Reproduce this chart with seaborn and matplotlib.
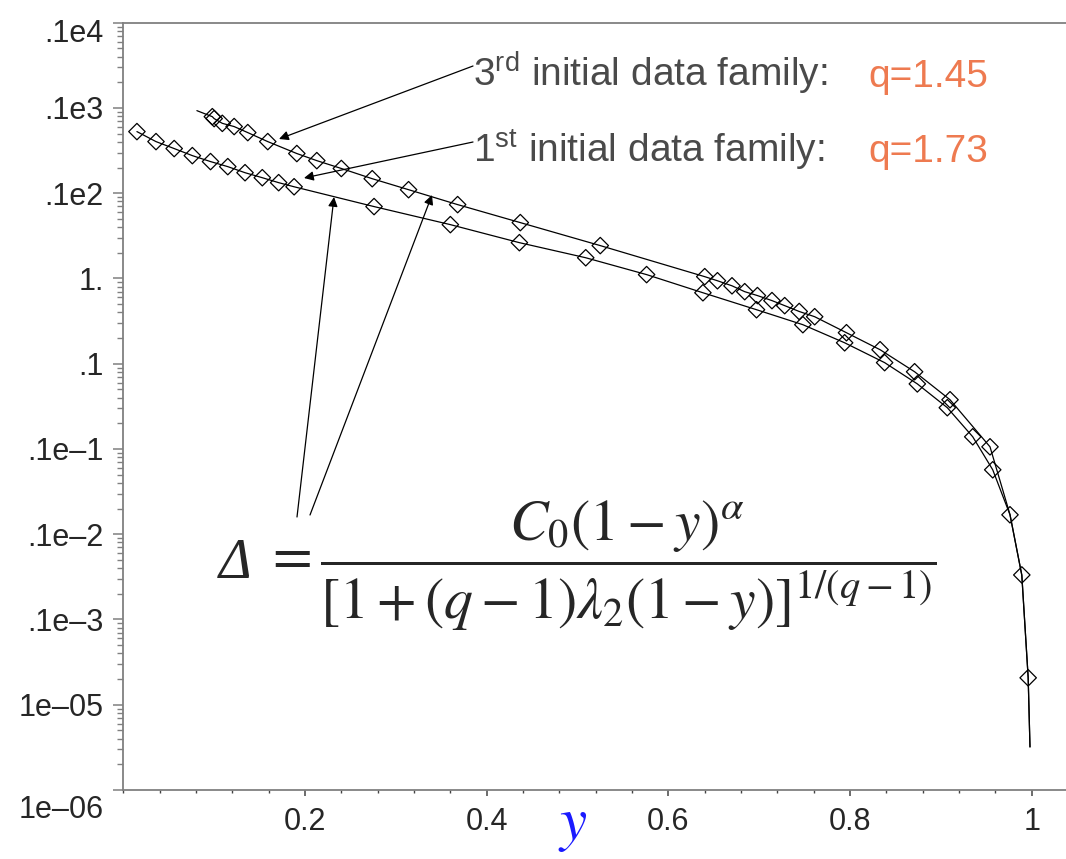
import numpy as np
import matplotlib
matplotlib.use("Agg")
import matplotlib.pyplot as plt
import seaborn as sns
from matplotlib.ticker import FixedLocator, LogLocator, MultipleLocator, NullFormatter
from matplotlib.transforms import ScaledTranslation

# 3rd initial data family (q=1.45): markers
fam3_y = [0.098, 0.100, 0.109, 0.122, 0.137, 0.159, 0.191, 0.213, 0.240, 0.274,
          0.314, 0.368, 0.437, 0.525, 0.640, 0.654, 0.670, 0.684, 0.698, 0.714,
          0.728, 0.744, 0.761, 0.796, 0.833, 0.871, 0.910, 0.954]
fam3_delta = [79, 75, 66, 60.5, 51.4, 40.3, 29.2, 24.1, 19.5, 14.8,
              11.0, 7.35, 4.52, 2.43, 1.05, 0.94, 0.82, 0.70, 0.63, 0.55,
              0.48, 0.41, 0.356, 0.231, 0.146, 0.0805, 0.0378, 0.0106]

# 1st initial data family (q=1.73)
fam1_y = [0.015, 0.036, 0.056, 0.076, 0.096, 0.115, 0.134, 0.153, 0.171, 0.188,
          0.276, 0.360, 0.436, 0.509, 0.576, 0.638, 0.697, 0.748, 0.794, 0.838,
          0.874, 0.907, 0.935, 0.957, 0.976, 0.989, 0.996]
fam1_delta = [52.8, 40.3, 33.4, 27.6, 23.5, 20.5, 17.4, 15.2, 13.3, 11.9,
              6.97, 4.28, 2.63, 1.75, 1.11, 0.68, 0.43, 0.287, 0.176, 0.103,
              0.058, 0.0305, 0.0139, 0.0057, 0.00169, 3.33e-4, 2.07e-5]

# fitted curves run a little past the markers
curve3_head_y = [0.081]
curve3_head_delta = [93.0]
curve_tail_y = [0.976, 0.989, 0.996, 0.998]
curve_tail_delta = [1.7e-3, 3.3e-4, 2.1e-5, 3.2e-6]

ytick_vals = [1e-6, 1e-5, 1e-4, 1e-3, 1e-2, 1e-1, 1, 1e1, 1e2, 1e3]
ytick_labels = ["1e\u201306", "1e\u201305", ".1e\u20133", ".1e\u20132", ".1e\u20131",
                ".1", "1.", ".1e2", ".1e3", ".1e4"]
xtick_vals = [0.2, 0.4, 0.6, 0.8, 1.0]
xtick_labels = ["0.2", "0.4", "0.6", "0.8", "1"]

label3 = r"3$^{\mathrm{rd}}$ initial data family:"
label1 = r"1$^{\mathrm{st}}$ initial data family:"
q3 = "q=1.45"
q1 = "q=1.73"
formula_lhs = "\u0394"
formula_rhs = r"$=\dfrac{C_0(1-y)^{\alpha}}{[1+(q-1)\lambda_2(1-y)]^{1/(q-1)}}$"

W, H = 1066, 859
def fx(px):
    return px / W
def fy(py):
    return 1 - py / H

sns.set_style("ticks")
plt.rcParams['font.family'] = ['Liberation Sans', 'DejaVu Sans']
plt.rcParams['mathtext.fontset'] = 'custom'
plt.rcParams['mathtext.rm'] = 'Liberation Sans'
plt.rcParams['mathtext.it'] = 'Liberation Sans:italic'

fig = plt.figure(figsize=(W / 100, H / 100), dpi=100)
ax = fig.add_axes([fx(123.3), fy(790), (W - 123.3) / W, (790 - 22.7) / H])

curve3_y = curve3_head_y + fam3_y + curve_tail_y
curve3_delta = curve3_head_delta + fam3_delta + curve_tail_delta
curve1_y = fam1_y + curve_tail_y[-1:]
curve1_delta = fam1_delta + curve_tail_delta[-1:]

sns.lineplot(x=curve3_y, y=curve3_delta, ax=ax, color='k', lw=0.9, estimator=None, sort=False)
sns.lineplot(x=curve1_y, y=curve1_delta, ax=ax, color='k', lw=0.9, estimator=None, sort=False)
sns.scatterplot(x=fam3_y, y=fam3_delta, ax=ax, marker='D', s=70, facecolors='none',
                edgecolors='k', linewidths=0.9, zorder=3)
sns.scatterplot(x=fam1_y, y=fam1_delta, ax=ax, marker='D', s=70, facecolors='none',
                edgecolors='k', linewidths=0.9, zorder=3)

ax.set_yscale('log')
ax.set_ylim(1e-6, 1e3)
ax.set_xlim(0, (W - 123.3) / 908.5)

ax.yaxis.set_major_locator(FixedLocator(ytick_vals))
ax.set_yticklabels(ytick_labels)
ax.yaxis.set_minor_locator(LogLocator(base=10, subs=np.arange(2, 10)))
ax.yaxis.set_minor_formatter(NullFormatter())
ax.set_xticks(xtick_vals)
ax.set_xticklabels(xtick_labels)
ax.xaxis.set_minor_locator(MultipleLocator(0.04))

axis_grey = '#808080'
for side in ['left', 'bottom', 'top']:
    ax.spines[side].set_color(axis_grey)
    ax.spines[side].set_linewidth(1.3)
ax.spines['right'].set_visible(False)
ax.tick_params(axis='y', which='major', length=7, width=1.1, color=axis_grey,
               labelsize=22, pad=7, direction='out')
ax.tick_params(axis='y', which='minor', length=4.5, width=1.0, color=axis_grey, direction='out')
ax.tick_params(axis='x', which='major', length=4, width=1.1, color='#444444',
               labelsize=22, pad=8, direction='out')
ax.tick_params(axis='x', which='minor', length=2.5, width=1.0, color='#444444', direction='out')
ax.set_xlabel('')
ax.set_ylabel('')

# maple-style edge labels sit a bit lower
ylabs = ax.get_yticklabels()
ylabs[0].set_transform(ylabs[0].get_transform() + ScaledTranslation(0, -0.16, fig.dpi_scale_trans))
ylabs[-1].set_transform(ylabs[-1].get_transform() + ScaledTranslation(0, -0.08, fig.dpi_scale_trans))

# family labels
text_grey = '#4a4a4a'
q_orange = '#ee7a50'
fig.text(fx(473), fy(87), label3, fontsize=28, color=text_grey, ha='left', va='baseline')
fig.text(fx(868), fy(87), q3, fontsize=28, color=q_orange, ha='left', va='baseline')
fig.text(fx(473), fy(162), label1, fontsize=28, color=text_grey, ha='left', va='baseline')
fig.text(fx(868), fy(162), q1, fontsize=28, color=q_orange, ha='left', va='baseline')

arrow_kw = dict(arrowstyle='-|>', color='k', lw=0.9, mutation_scale=14, shrinkA=0, shrinkB=0)
arrows = [((473, 66), (279, 139)), ((473, 142), (304, 178)),
          ((297, 517), (334, 197)), ((310, 515), (432, 195))]
for (tx, ty), (hx, hy) in arrows:
    ax.annotate('', xy=(fx(hx), fy(hy)), xycoords='figure fraction',
                xytext=(fx(tx), fy(ty)), textcoords='figure fraction', arrowprops=arrow_kw)

# formula
fig.text(fx(219), fy(578), formula_lhs, fontsize=40, family='Liberation Serif', style='italic',
         ha='left', va='baseline')
fig.text(fx(264), fy(566), formula_rhs, fontsize=41.5, math_fontfamily='stix', ha='left', va='center')
fig.text(fx(573), fy(826), r"$y$", fontsize=44, color='#1a1aff', math_fontfamily='stix',
         ha='center', va='center')

fig.savefig('out.png', dpi=100)
